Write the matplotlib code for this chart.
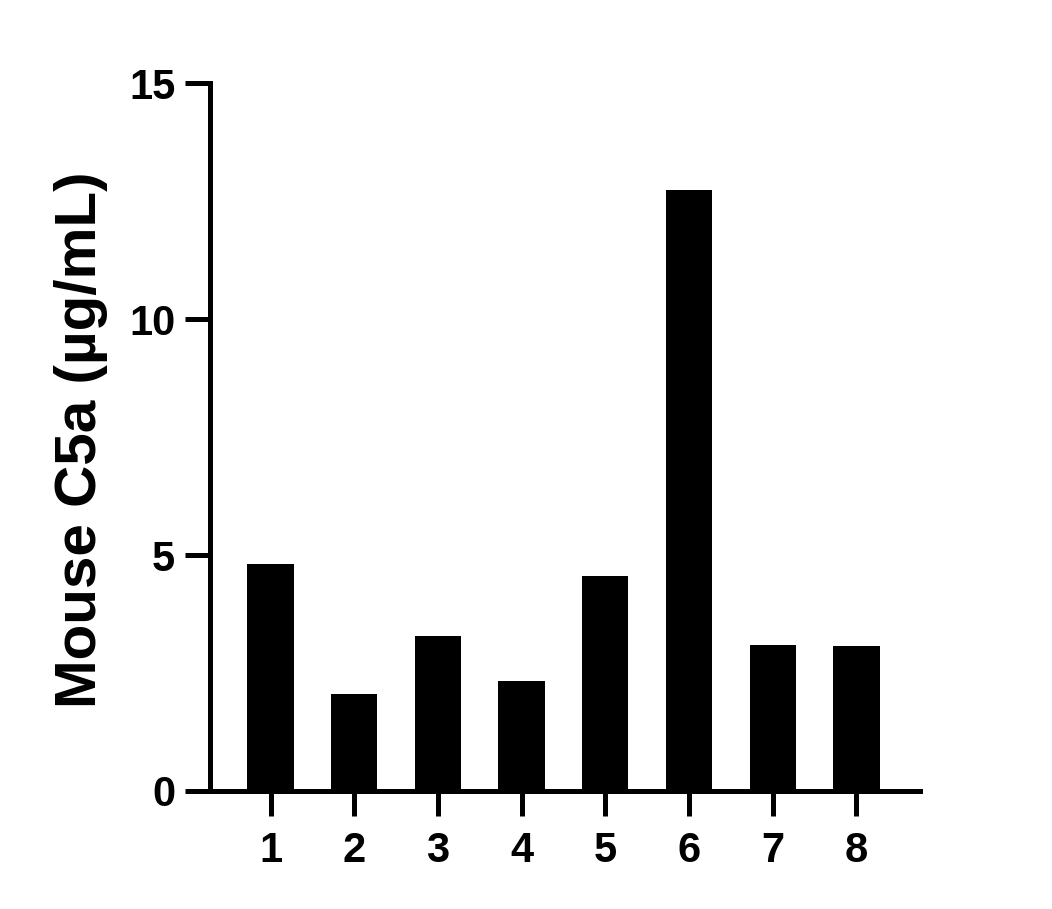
import matplotlib
matplotlib.use("Agg")
import matplotlib.pyplot as plt

categories = ["1", "2", "3", "4", "5", "6", "7", "8"]
values = [4.81, 2.05, 3.28, 2.33, 4.56, 12.73, 3.10, 3.08]
y_ticks = [0, 5, 10, 15]
y_label = "Mouse C5a (µg/mL)"

plt.rcParams['font.family'] = ['Liberation Sans', 'DejaVu Sans']
plt.rcParams['font.weight'] = 'bold'

fig = plt.figure(figsize=(10.52, 9.09), dpi=100)
W, H = 1052, 909
ax = fig.add_axes([210 / W, 1 - 791 / H, (920 - 210) / W, (791 - 83.3) / H])

x = list(range(1, len(categories) + 1))
ax.bar(x, values, width=0.553, color='black', edgecolor='none', zorder=2)

ax.set_xlim(0.277, 8.76)
ax.set_ylim(0, 15)
ax.set_yticks(y_ticks)
ax.set_yticklabels([str(t) for t in y_ticks])
ax.set_xticks(x)
ax.set_xticklabels(categories)

for s in ['top', 'right']:
    ax.spines[s].set_visible(False)
for s in ['left', 'bottom']:
    ax.spines[s].set_linewidth(3.6)
    ax.spines[s].set_capstyle('projecting')

ax.tick_params(axis='y', length=18, width=3.6, labelsize=30, pad=7)
ax.tick_params(axis='x', length=18, width=3.6, labelsize=30, pad=11)
for lab in ax.get_xticklabels() + ax.get_yticklabels():
    lab.set_fontweight('bold')

ax.set_ylabel(y_label, fontsize=42, fontweight='bold')
ax.yaxis.set_label_coords((108 - 210) / 710, 0.497)

fig.savefig("out.png", dpi=100, facecolor='white')
